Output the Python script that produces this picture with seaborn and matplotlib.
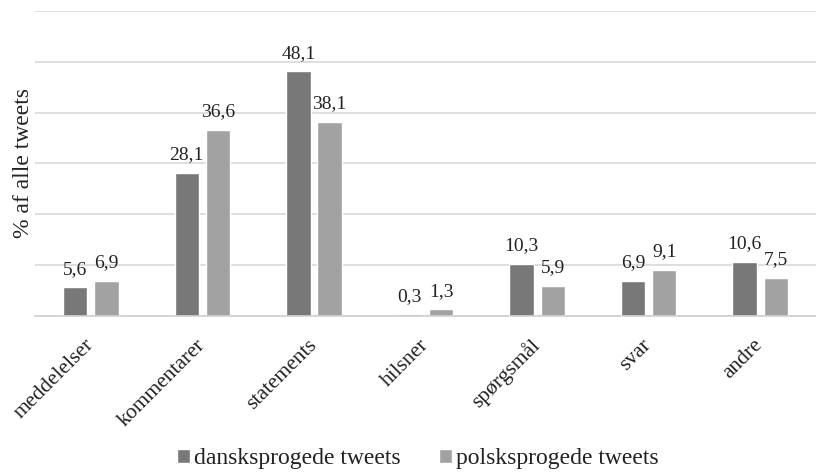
import matplotlib
matplotlib.use("Agg")
import matplotlib.pyplot as plt
import seaborn as sns
import pandas as pd

categories = ["meddelelser", "kommentarer", "statements", "hilsner",
              "spørgsmål", "svar", "andre"]
danish = [5.6, 28.1, 48.1, 0.3, 10.3, 6.9, 10.6]
polish = [6.9, 36.6, 38.1, 1.3, 5.9, 9.1, 7.5]
series_names = ["dansksprogede tweets", "polsksprogede tweets"]
value_labels_da = ["5,6", "28,1", "48,1", "0,3", "10,3", "6,9", "10,6"]
value_labels_pl = ["6,9", "36,6", "38,1", "1,3", "5,9", "9,1", "7,5"]

df = pd.DataFrame({
    "kategori": categories * 2,
    "andel": danish + polish,
    "sprog": [series_names[0]] * len(categories) + [series_names[1]] * len(categories),
})

sns.set_theme(style="white")
plt.rcParams["font.family"] = ["Liberation Serif", "DejaVu Serif"]
text_color = "#222222"

fig = plt.figure(figsize=(8.16, 4.73), dpi=100)
ax = fig.add_axes([0.043, 0.332, 0.957, 0.645])

palette = {series_names[0]: "#787878", series_names[1]: "#a2a2a2"}
sns.barplot(data=df, x="kategori", y="andel", hue="sprog", order=categories,
            hue_order=series_names, palette=palette, width=0.56, gap=0.22,
            saturation=1, ax=ax, legend=True)

ax.set_ylim(0, 60)
ax.set_yticks(range(0, 61, 10))
ax.set_yticklabels([])
ax.tick_params(axis="y", length=0)
ax.yaxis.grid(True, color="#d9d9d9", linewidth=1.2)
ax.set_axisbelow(True)
ax.set_xlim(-0.5, len(categories) - 0.5)
for s in ["top", "right", "left"]:
    ax.spines[s].set_visible(False)
ax.spines["bottom"].set_color("#d0d0d0")
ax.spines["bottom"].set_linewidth(1.2)

for cont, labels in zip(ax.containers, [value_labels_da, value_labels_pl]):
    ax.bar_label(cont, labels=labels, padding=7, fontsize=14, color=text_color)

ax.set_xlabel("")
ax.set_ylabel("% af alle tweets", fontsize=17, color=text_color)
ax.yaxis.set_label_coords(-0.001, 0.5)
ax.tick_params(axis="x", length=0, pad=19)
plt.setp(ax.get_xticklabels(), rotation=45, ha="right", va="center",
         rotation_mode="anchor", fontsize=15.5, color=text_color)

ax.get_legend().remove()
handles, labels = ax.get_legend_handles_labels()
leg = fig.legend(handles, labels, loc="center", bbox_to_anchor=(0.512, 0.03),
                 ncol=2, frameon=False, fontsize=17, handlelength=0.55,
                 handleheight=0.55, handletextpad=0.2, columnspacing=1.6,
                 borderpad=0, borderaxespad=0)
for t in leg.get_texts():
    t.set_color(text_color)

fig.savefig("out.png", dpi=100)
